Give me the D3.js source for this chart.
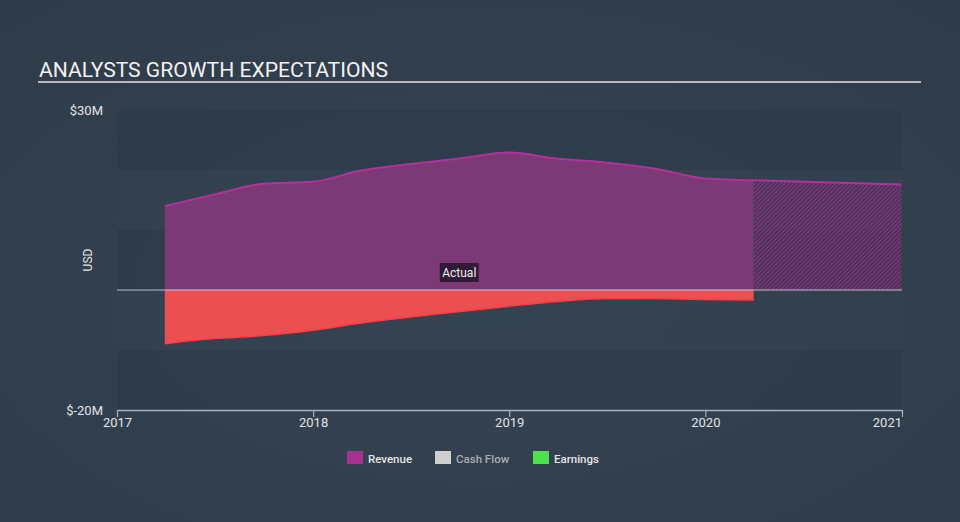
<!DOCTYPE html>
<html><head><meta charset="utf-8">
<script src="https://cdn.jsdelivr.net/npm/d3@7"></script>
<style>
html,body{margin:0;padding:0;}
body{width:960px;height:522px;overflow:hidden;}
svg{display:block;font-family:Roboto,"Noto Sans",sans-serif;}
</style>
</head><body>
<svg id="chart" width="960" height="522"></svg>
<script>
// ---- data ----
const quarterDates = ["2017-03-31","2017-06-30","2017-09-30","2017-12-31","2018-03-31","2018-06-30","2018-09-30","2018-12-31","2019-03-31","2019-06-30","2019-09-30","2019-12-31","2020-03-31"];
const revenueActual = [14.0, 15.9, 17.7, 18.05, 19.9, 21.0, 21.9, 22.9, 21.9, 21.25, 20.2, 18.6, 18.3];
const earningsActual = [-8.95, -8.1, -7.6, -6.7, -5.5, -4.5, -3.6, -2.7, -1.9, -1.4, -1.4, -1.6, -1.67];
const forecastDates = ["2020-03-31","2020-12-31"];
const revenueForecast = [18.3, 17.6];
const yTickValues = [30, -20];
const yTickLabels = ["$30M", "$-20M"];
const xTickYears = [2017, 2018, 2019, 2020, 2021];
const legendItems = ["Revenue", "Cash Flow", "Earnings"];
const legendColors = ["#a8338f", "#cfcfcf", "#4ce24c"];
const legendTextColors = ["#e6e6e6", "#a9adb3", "#e6e6e6"];

// ---- setup ----
const svg = d3.select("#chart");
const W = 960, H = 522;
const parse = d3.timeParse("%Y-%m-%d");
const x = d3.scaleTime().domain([new Date(2017,0,1), new Date(2021,0,1)]).range([117, 902]);
const y = d3.scaleLinear().domain([-20, 30]).range([410, 110]);

const defs = svg.append("defs");
const bg = defs.append("radialGradient").attr("id","bg").attr("cx","50%").attr("cy","55%").attr("r","75%");
bg.append("stop").attr("offset","0%").attr("stop-color","#354454");
bg.append("stop").attr("offset","100%").attr("stop-color","#2f3b49");
const pat = defs.append("pattern").attr("id","hatch").attr("patternUnits","userSpaceOnUse")
  .attr("width",3).attr("height",3).attr("patternTransform","rotate(45)");
pat.append("rect").attr("width",3).attr("height",3).attr("fill","#3e3050").attr("fill-opacity",0.6);
pat.append("line").attr("x1",0.75).attr("y1",0).attr("x2",0.75).attr("y2",3)
  .attr("stroke","#b4309d").attr("stroke-width",1.1).attr("stroke-opacity",0.85);

svg.append("rect").attr("width",W).attr("height",H).attr("fill","url(#bg)");

// title
svg.append("text").attr("x",39).attr("y",77).attr("fill","#f2f2f2")
  .attr("font-size",21).attr("textLength",349).attr("lengthAdjust","spacingAndGlyphs")
  .text("ANALYSTS GROWTH EXPECTATIONS");
svg.append("line").attr("x1",38).attr("x2",921).attr("y1",82).attr("y2",82)
  .attr("stroke","#b7bcc3").attr("stroke-width",2);

// bands
const bands = [[30,20,true],[20,10,false],[10,0,true],[0,-10,false],[-10,-20,true]];
svg.append("g").selectAll("rect").data(bands).join("rect")
  .attr("x", x.range()[0]).attr("width", x.range()[1]-x.range()[0])
  .attr("y", d=>y(d[0])).attr("height", d=>y(d[1])-y(d[0]))
  .attr("fill", d=> d[2] ? "#2e3b4a" : "#344352").attr("fill-opacity", d=> d[2]?0.75:0.4);

// data arrays
const rev = quarterDates.map((d,i)=>({date:parse(d), v:revenueActual[i]}));
const earn = quarterDates.map((d,i)=>({date:parse(d), v:earningsActual[i]}));
const fc = forecastDates.map((d,i)=>({date:parse(d), v:revenueForecast[i]}));

const curve = d3.curveMonotoneX;
const area = d3.area().x(d=>x(d.date)).y0(y(0)).y1(d=>y(d.v)).curve(curve);
const line = d3.line().x(d=>x(d.date)).y(d=>y(d.v)).curve(curve);

// revenue actual
svg.append("path").datum(rev).attr("d",area).attr("fill","#7b3976");
// revenue forecast hatch
svg.append("path").datum(fc).attr("d",area).attr("fill","url(#hatch)");
// earnings
svg.append("path").datum(earn).attr("d",area).attr("fill","#ec4f51");
svg.append("path").datum(earn).attr("d",line).attr("fill","none").attr("stroke","#ff3d45").attr("stroke-width",1.5);
// revenue lines
svg.append("path").datum(rev).attr("d",line).attr("fill","none").attr("stroke","#b4309d").attr("stroke-width",2);
svg.append("path").datum(fc).attr("d",line).attr("fill","none").attr("stroke","#b4309d").attr("stroke-width",2);

// zero line
svg.append("line").attr("x1",x.range()[0]).attr("x2",x.range()[1]).attr("y1",y(0)).attr("y2",y(0))
  .attr("stroke","#e8e8ee").attr("stroke-opacity",0.75).attr("stroke-width",1.2);

// Actual label
const actualMid = x(new Date((rev[0].date.getTime()+rev[rev.length-1].date.getTime())/2));
const lblG = svg.append("g");
lblG.append("rect").attr("x",actualMid-19.5).attr("y",263).attr("width",39).attr("height",19)
  .attr("fill","#2a1830").attr("fill-opacity",0.9);
lblG.append("text").attr("x",actualMid).attr("y",276.5).attr("text-anchor","middle")
  .attr("fill","#eeeeee").attr("font-size",12).text("Actual");

// y labels
svg.append("g").selectAll("text").data(yTickValues).join("text")
  .attr("x",103).attr("y",d=>y(d)+4.5).attr("text-anchor","end")
  .attr("fill","#e2e4e8").attr("font-size",13).text((d,i)=>yTickLabels[i]);
svg.append("text").attr("transform","translate(92,260) rotate(-90)").attr("text-anchor","middle")
  .attr("fill","#e2e4e8").attr("font-size",12).text("USD");

// x axis
const xAxis = d3.axisBottom(x).tickValues(xTickYears.map(yr=>new Date(yr,0,1)))
  .tickFormat(d3.timeFormat("%Y")).tickSize(7).tickSizeOuter(0);
const gx = svg.append("g").attr("transform",`translate(0,${y(-20)})`).call(xAxis);
gx.select(".domain").attr("stroke","#aab2bd").attr("stroke-width",1.5);
gx.selectAll(".tick line").attr("stroke","#aab2bd").attr("stroke-width",1.2);
gx.selectAll(".tick text").attr("fill","#e2e4e8").attr("font-size",13)
  .attr("font-family","Roboto,sans-serif").attr("dy","0.95em").attr("y",5);
gx.selectAll(".tick text").filter((d,i)=>i===xTickYears.length-1).attr("text-anchor","end").attr("dx",-0.5);

// legend
const legX = [347, 435, 533];
const lg = svg.append("g").selectAll("g").data(legendItems).join("g")
  .attr("transform",(d,i)=>`translate(${legX[i]},451)`);
lg.append("rect").attr("width",16).attr("height",13).attr("fill",(d,i)=>legendColors[i]);
lg.append("text").attr("x",21).attr("y",11.5).attr("font-size",11.5).attr("font-weight",500)
  .attr("fill",(d,i)=>legendTextColors[i]).text(d=>d);
</script>
</body></html>
